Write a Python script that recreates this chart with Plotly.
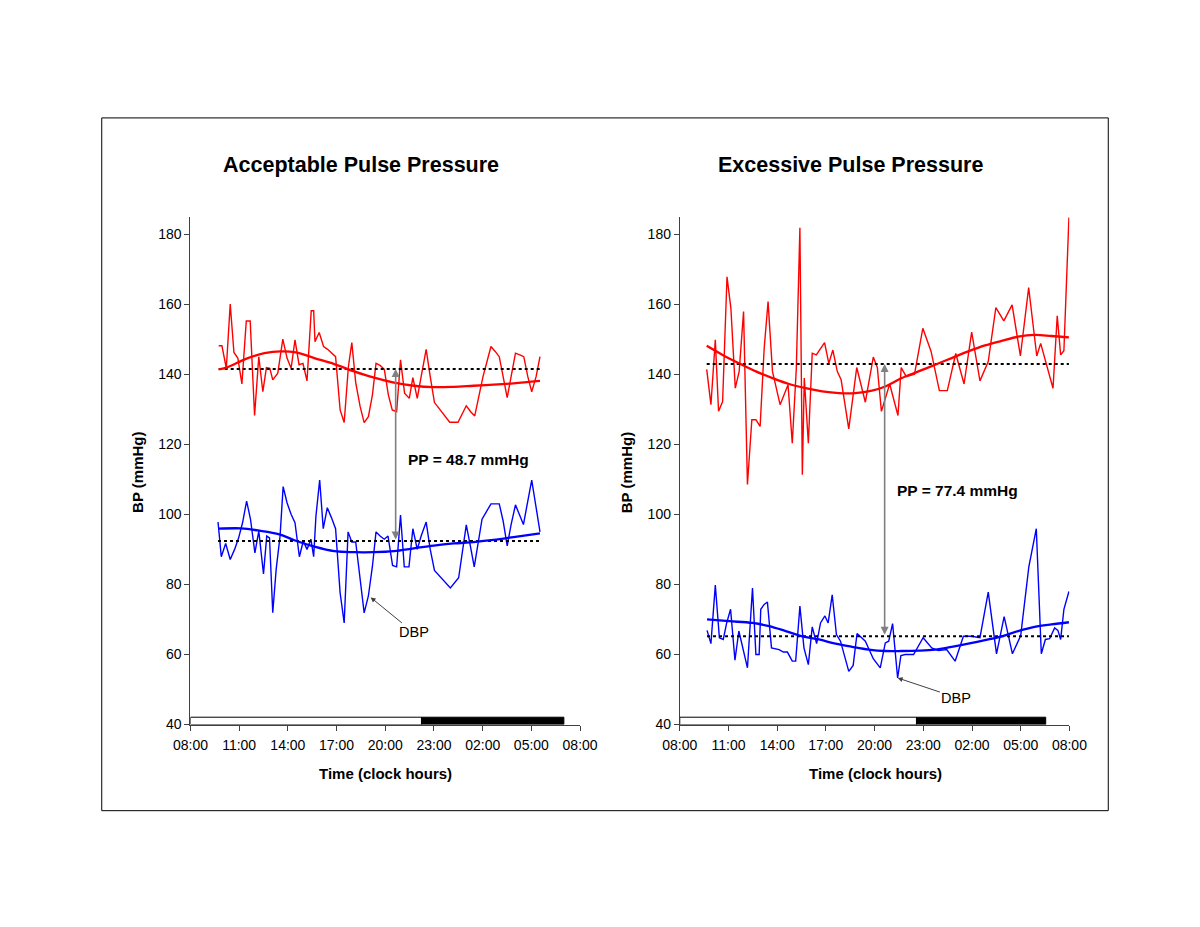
import plotly.graph_objects as go

# ---------------- data (time in clock hours after midnight of day 1; 32 = 08:00 next day) ----------
tick_vals = [8, 11, 14, 17, 20, 23, 26, 29, 32]
tick_text = ["08:00", "11:00", "14:00", "17:00", "20:00", "23:00", "02:00", "05:00", "08:00"]
y_ticks = [40, 60, 80, 100, 120, 140, 160, 180]

# Panel A: acceptable pulse pressure
t_sbp_a = [9.74, 9.94, 10.21, 10.45, 10.68, 10.92, 11.17, 11.44, 11.68, 11.95, 12.21, 12.46, 12.68,
           12.89, 13.07, 13.38, 13.69, 13.95, 14.20, 14.44, 14.69, 14.93, 15.18, 15.44, 15.59, 15.67,
           15.93, 16.20, 16.45, 16.69, 16.94, 17.22, 17.47, 17.73, 17.94, 18.18, 18.45, 18.70, 18.96,
           19.21, 19.43, 19.68, 19.94, 20.19, 20.43, 20.70, 20.94, 21.19, 21.48, 21.70, 21.97, 22.21,
           22.52, 22.77, 23.03, 23.30, 23.60, 23.97, 24.48, 24.73, 24.99, 25.26, 25.51, 26.02, 26.51,
           26.77, 27.02, 27.26, 27.51, 27.75, 28.02, 28.29, 28.53, 28.78, 29.02, 29.29, 29.53]
sbp_a = [148.1, 148.1, 141.7, 160.0, 146.2, 144.6, 137.2, 155.2, 155.2, 128.2, 145.0, 135.0, 141.9,
         141.7, 138.4, 140.3, 150.0, 144.6, 141.7, 149.8, 142.7, 143.1, 138.1, 158.1, 158.1, 149.3,
         151.9, 147.9, 147.1, 146.0, 145.0, 129.8, 126.2, 142.2, 149.0, 137.6, 130.8, 126.2, 127.9,
         134.1, 143.1, 142.5, 141.4, 134.1, 129.8, 129.3, 144.1, 134.6, 133.1, 139.0, 133.1, 139.3,
         147.1, 139.3, 131.9, 130.3, 128.6, 126.3, 126.3, 128.6, 131.0, 129.3, 128.1, 139.3, 147.9,
         146.5, 145.0, 139.3, 133.3, 139.3, 146.0, 145.5, 145.0, 139.3, 135.0, 139.3, 145.0]
t_dbp_a = [9.70, 9.90, 10.17, 10.45, 10.72, 10.97, 11.21, 11.46, 11.70, 11.97, 12.21, 12.50, 12.70,
           12.87, 13.07, 13.28, 13.52, 13.71, 13.95, 14.20, 14.44, 14.71, 14.95, 15.18, 15.42, 15.59,
           15.73, 15.96, 16.18, 16.43, 16.69, 16.94, 17.22, 17.47, 17.71, 17.94, 18.18, 18.45, 18.70,
           18.96, 19.21, 19.43, 19.68, 19.94, 20.17, 20.45, 20.70, 20.94, 21.17, 21.46, 21.70, 21.97,
           22.21, 22.52, 22.77, 23.03, 23.32, 23.60, 24.01, 24.52, 24.99, 25.24, 25.48, 25.96, 26.51,
           27.02, 27.26, 27.51, 27.75, 28.02, 28.51, 29.02, 29.53]
dbp_a = [97.8, 87.9, 91.7, 87.1, 90.0, 93.3, 97.6, 103.8, 98.6, 89.0, 95.2, 83.0, 93.8,
         93.3, 71.9, 84.3, 93.8, 107.9, 103.3, 100.0, 97.6, 87.9, 92.4, 90.0, 92.9, 87.9,
         99.5, 109.8, 95.9, 101.9, 99.0, 95.9, 77.6, 69.0, 95.0, 92.1, 92.1, 82.4, 71.9,
         76.7, 85.2, 95.0, 93.8, 92.9, 93.8, 85.4, 85.0, 99.8, 85.0, 85.0, 95.9, 90.0,
         93.8, 97.8, 90.0, 84.0, 82.6, 81.0, 79.0, 81.9, 97.0, 91.0, 85.0, 98.6, 103.0,
         103.0, 98.1, 91.0, 97.1, 102.7, 97.1, 109.8, 95.0]
t_trend_sbp_a = [9.74, 10.21, 11.54, 12.56, 13.58, 14.50, 15.63, 16.86, 18.08, 19.31, 20.54, 21.76,
                 22.99, 24.22, 25.44, 26.67, 27.90, 29.53]
trend_sbp_a = [141.4, 141.9, 144.6, 146.0, 146.5, 146.2, 144.6, 142.9, 140.8, 139.0, 137.6, 136.7,
               136.3, 136.4, 136.7, 137.0, 137.4, 138.1]
t_trend_dbp_a = [9.70, 11.13, 12.15, 13.48, 14.40, 15.63, 16.86, 18.08, 19.31, 20.54, 21.76, 22.99,
                 24.22, 25.44, 26.67, 27.90, 29.53]
trend_dbp_a = [95.9, 96.0, 95.4, 94.3, 92.6, 90.8, 89.5, 89.2, 89.2, 89.5, 90.3, 91.1,
               91.7, 92.1, 92.7, 93.5, 94.6]
mean_sbp_a, mean_dbp_a = 141.5, 92.4
pp_a = "PP = 48.7 mmHg"
night_a = [22.23, 31.0]

# Panel B: excessive pulse pressure
t_sbp_b = [9.66, 9.92, 10.19, 10.39, 10.64, 10.91, 11.15, 11.42, 11.66, 11.93, 12.17, 12.44, 12.69,
           12.95, 13.20, 13.44, 13.71, 14.18, 14.67, 14.93, 15.18, 15.40, 15.55, 15.67, 15.92, 16.16,
           16.41, 16.92, 17.18, 17.43, 17.70, 17.94, 18.41, 18.90, 19.43, 19.92, 20.17, 20.42, 20.93,
           21.44, 21.64, 21.95, 22.46, 22.97, 23.48, 23.99, 24.48, 25.00, 25.51, 25.98, 26.49, 27.00,
           27.47, 27.96, 28.47, 28.98, 29.49, 29.99, 30.23, 30.99, 31.25, 31.46, 31.66, 31.97]
sbp_b = [141.4, 131.3, 149.8, 129.4, 132.2, 167.8, 158.8, 136.0, 140.8, 157.9, 108.5, 127.0, 127.0,
         125.1, 147.4, 160.7, 140.8, 131.3, 137.0, 120.3, 141.7, 181.8, 111.3, 138.9, 120.3, 146.0,
         145.5, 149.0, 143.1, 146.9, 140.8, 138.4, 124.4, 141.9, 132.0, 144.9, 141.9, 129.4, 137.2,
         128.2, 141.9, 139.3, 140.0, 153.1, 146.5, 135.3, 135.3, 145.9, 137.2, 152.0, 138.1, 143.6,
         159.0, 155.2, 159.8, 145.2, 164.7, 145.2, 148.8, 136.0, 156.7, 145.5, 146.7, 184.7]
t_dbp_b = [9.68, 9.92, 10.19, 10.44, 10.68, 10.89, 11.13, 11.40, 11.64, 11.91, 12.17, 12.48, 12.69,
           12.89, 12.99, 13.20, 13.40, 13.65, 14.12, 14.38, 14.63, 14.93, 15.14, 15.40, 15.65, 15.92,
           16.16, 16.43, 16.67, 16.94, 17.14, 17.39, 17.65, 17.90, 18.41, 18.68, 18.92, 19.43, 19.92,
           20.35, 20.66, 20.87, 21.11, 21.42, 21.62, 21.89, 22.40, 22.99, 23.52, 23.93, 24.44, 24.96,
           25.47, 25.98, 26.49, 27.00, 27.51, 27.98, 28.49, 29.00, 29.50, 29.96, 30.27, 30.52, 30.78,
           31.09, 31.29, 31.46, 31.66, 31.97]
dbp_b = [66.9, 63.1, 79.8, 64.8, 64.3, 69.0, 72.9, 58.4, 66.7, 61.7, 56.2, 79.0, 60.0,
         60.0, 72.9, 74.3, 75.0, 61.9, 61.4, 60.7, 60.7, 58.1, 58.1, 73.8, 61.9, 57.1,
         67.9, 63.1, 69.0, 71.0, 69.0, 77.0, 65.7, 63.8, 55.2, 56.9, 66.0, 63.8, 58.8,
         56.2, 63.3, 63.8, 68.8, 53.3, 59.7, 60.0, 60.0, 64.8, 61.9, 61.1, 61.4, 58.1,
         65.2, 65.2, 64.8, 77.8, 60.2, 70.8, 60.2, 65.4, 85.0, 95.9, 60.2, 64.3, 64.5,
         67.6, 66.9, 64.3, 72.9, 78.0]
t_trend_sbp_b = [9.66, 10.64, 11.66, 12.69, 13.71, 14.73, 15.75, 16.77, 17.80, 18.82, 19.84, 20.66,
                 21.68, 22.70, 23.73, 24.75, 25.77, 26.80, 27.82, 28.84, 29.86, 30.89, 31.97]
trend_sbp_b = [148.1, 145.5, 143.1, 140.8, 138.9, 137.2, 136.0, 135.1, 134.6, 134.6, 135.3, 136.5,
               138.9, 140.8, 142.7, 144.6, 146.5, 148.2, 149.5, 150.7, 151.2, 150.9, 150.5]
t_trend_dbp_b = [9.68, 11.05, 12.48, 13.50, 14.52, 15.55, 16.57, 17.59, 18.61, 19.64, 20.66, 21.68,
                 22.70, 23.73, 24.75, 25.77, 26.80, 27.82, 28.84, 29.86, 30.89, 31.97]
trend_dbp_b = [70.0, 69.5, 69.0, 68.1, 66.7, 65.2, 64.3, 63.1, 62.2, 61.4, 61.0, 61.0,
               61.1, 61.4, 62.2, 63.1, 64.1, 65.2, 66.7, 67.9, 68.6, 69.2]
mean_sbp_b, mean_dbp_b = 142.9, 65.2
pp_b = "PP = 77.4 mmHg"
night_b = [22.58, 30.54]

titles = ["Acceptable Pulse Pressure", "Excessive Pulse Pressure"]
y_title = "BP (mmHg)"
x_title = "Time (clock hours)"

# ---------------- figure ----------------
W, H = 1200, 927
# observed drawing area of the page (the figure paper is shown at this size/offset)
PW, PH, OX, OY = 1168.0, 918.0, 24.0, 8.2
FONT = "Arial, 'Liberation Sans', sans-serif"
RED, BLUE = "#FF0000", "#0000FF"
AX = "#404040"


def fx(p):
    return (p - OX) / PW


def fy(p):
    return 1 - (p - OY) / PH


fig = go.Figure()

panels = [
    dict(xa="x", ya="y", t_s=t_sbp_a, s=sbp_a, t_d=t_dbp_a, d=dbp_a,
         tts=t_trend_sbp_a, ts=trend_sbp_a, ttd=t_trend_dbp_a, td=trend_dbp_a,
         ms=mean_sbp_a, md=mean_dbp_a, pp=pp_a, night=night_a,
         pp_x=20.64, pp_tx=21.25, pp_ty=115.7, dbp_pt=(19.10, 76.3), dbp_txt=(21.74, 66.3)),
    dict(xa="x2", ya="y2", t_s=t_sbp_b, s=sbp_b, t_d=t_dbp_b, d=dbp_b,
         tts=t_trend_sbp_b, ts=trend_sbp_b, ttd=t_trend_dbp_b, td=trend_dbp_b,
         ms=mean_sbp_b, md=mean_dbp_b, pp=pp_b, night=night_b,
         pp_x=20.62, pp_tx=21.23, pp_ty=106.9, dbp_pt=(21.42, 53.3), dbp_txt=(25.04, 47.7)),
]

annotations = []
shapes = []

for i, p in enumerate(panels):
    xa, ya = p["xa"], p["ya"]
    # raw readings
    fig.add_trace(go.Scatter(x=p["t_s"], y=p["s"], mode="lines", xaxis=xa, yaxis=ya,
                             line=dict(color=RED, width=1.4), hoverinfo="skip"))
    fig.add_trace(go.Scatter(x=p["t_d"], y=p["d"], mode="lines", xaxis=xa, yaxis=ya,
                             line=dict(color=BLUE, width=1.4), hoverinfo="skip"))
    # means (dotted)
    fig.add_trace(go.Scatter(x=[p["t_s"][0], p["t_s"][-1]], y=[p["ms"], p["ms"]], mode="lines",
                             xaxis=xa, yaxis=ya, line=dict(color="black", width=2, dash="dot"),
                             hoverinfo="skip"))
    fig.add_trace(go.Scatter(x=[p["t_d"][0], p["t_d"][-1]], y=[p["md"], p["md"]], mode="lines",
                             xaxis=xa, yaxis=ya, line=dict(color="black", width=2, dash="dot"),
                             hoverinfo="skip"))
    # trend curves
    fig.add_trace(go.Scatter(x=p["tts"], y=p["ts"], mode="lines", xaxis=xa, yaxis=ya,
                             line=dict(color=RED, width=2.3, shape="spline"), hoverinfo="skip"))
    fig.add_trace(go.Scatter(x=p["ttd"], y=p["td"], mode="lines", xaxis=xa, yaxis=ya,
                             line=dict(color=BLUE, width=2.3, shape="spline"), hoverinfo="skip"))

    # day / night bar
    shapes.append(dict(type="rect", xref=xa, yref=ya, x0=8, x1=p["night"][0], y0=40, y1=42.1,
                       fillcolor="white", line=dict(color="black", width=1), layer="above"))
    shapes.append(dict(type="rect", xref=xa, yref=ya, x0=p["night"][0], x1=p["night"][1], y0=40,
                       y1=42.1, fillcolor="black", line=dict(color="black", width=1), layer="above"))

    # PP arrow
    annotations.append(dict(xref=xa, yref=ya, axref=xa, ayref=ya, x=p["pp_x"], y=p["ms"],
                            ax=p["pp_x"], ay=p["md"], text="", showarrow=True,
                            arrowside="end+start", arrowhead=2, startarrowhead=2,
                            arrowsize=1, startarrowsize=1, arrowwidth=1.6, arrowcolor="#808080"))
    annotations.append(dict(xref=xa, yref=ya, x=p["pp_tx"], y=p["pp_ty"], text="<b>" + p["pp"] + "</b>",
                            showarrow=False, xanchor="left", yanchor="middle",
                            font=dict(family=FONT, size=15.5, color="black")))
    # DBP label
    annotations.append(dict(xref=xa, yref=ya, axref=xa, ayref=ya, x=p["dbp_pt"][0], y=p["dbp_pt"][1],
                            ax=p["dbp_txt"][0], ay=p["dbp_txt"][1], text="DBP", showarrow=True,
                            arrowhead=2, arrowsize=1, arrowwidth=1, arrowcolor=AX,
                            font=dict(family=FONT, size=14.5, color="black")))

# titles & axis titles
title_x = [360, 851]
ytitle_x = [136, 626]
xtitle_x = [385, 876]
for i in range(2):
    annotations.append(dict(xref="paper", yref="paper", x=fx(title_x[i]), y=fy(165),
                            text="<b>" + titles[i] + "</b>", showarrow=False,
                            xanchor="center", yanchor="middle",
                            font=dict(family=FONT, size=21.5, color="black")))
    annotations.append(dict(xref="paper", yref="paper", x=fx(ytitle_x[i]), y=fy(472),
                            text="<b>" + y_title + "</b>", showarrow=False, textangle=-90,
                            xanchor="center", yanchor="middle",
                            font=dict(family=FONT, size=15, color="black")))
    annotations.append(dict(xref="paper", yref="paper", x=fx(xtitle_x[i]), y=fy(773),
                            text="<b>" + x_title + "</b>", showarrow=False,
                            xanchor="center", yanchor="middle",
                            font=dict(family=FONT, size=15, color="black")))

# outer frame
shapes.append(dict(type="rect", xref="paper", yref="paper", x0=fx(100), x1=fx(1110),
                   y0=fy(810), y1=fy(118), line=dict(color="black", width=1),
                   fillcolor="rgba(0,0,0,0)", layer="below"))

xaxis_common = dict(range=[8, 32], tickvals=tick_vals, ticktext=tick_text, showgrid=False,
                    zeroline=False, showline=True, linecolor=AX, linewidth=1, ticks="outside",
                    ticklen=5, tickcolor=AX, tickfont=dict(family=FONT, size=14, color="black"),
                    ticklabelstandoff=3, fixedrange=True)
yaxis_common = dict(range=[40, 185], tickvals=y_ticks, showgrid=False, zeroline=False,
                    showline=True, linecolor=AX, linewidth=1, ticks="outside", ticklen=5,
                    tickcolor=AX, tickfont=dict(family=FONT, size=14, color="black"),
                    fixedrange=True)

y_dom = [fy(724), fy(216.5)]
fig.update_layout(
    width=W, height=H, margin=dict(l=0, r=0, t=0, b=0),
    paper_bgcolor="white", plot_bgcolor="white", showlegend=False,
    xaxis=dict(domain=[fx(189), fx(580)], anchor="y", **xaxis_common),
    yaxis=dict(domain=y_dom, anchor="x", **yaxis_common),
    xaxis2=dict(domain=[fx(680), fx(1071)], anchor="y2", **xaxis_common),
    yaxis2=dict(domain=y_dom, anchor="x2", **yaxis_common),
    annotations=annotations, shapes=shapes,
)

fig.write_html("out.html")
